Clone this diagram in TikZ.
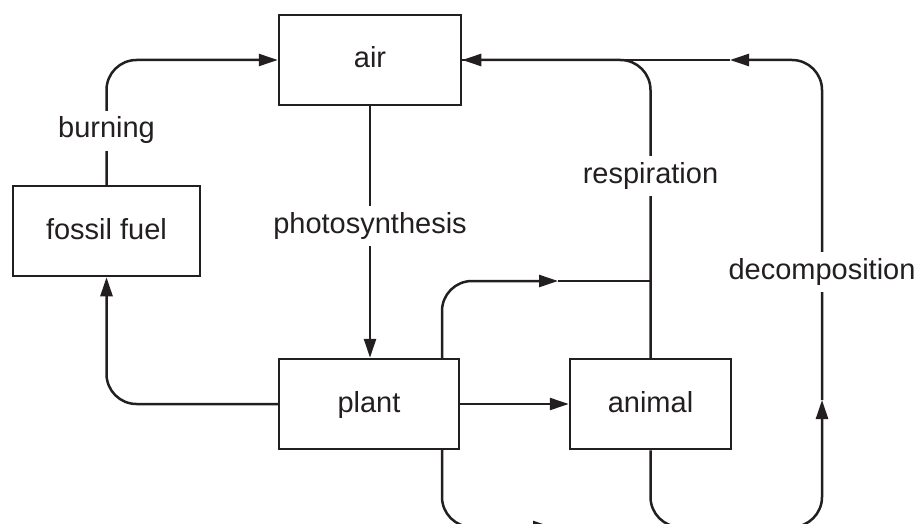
\documentclass[tikz,border=0pt]{standalone}
\usepackage{fontspec}
\setmainfont{Liberation Sans}
\usetikzlibrary{arrows.meta,calc}
\definecolor{ink}{RGB}{35,31,32}
\begin{document}
\begin{tikzpicture}[x=1pt,y=-1pt,
  line width=2.5pt, draw=ink, text=ink,
  box/.style={draw, rectangle, minimum height=90pt, inner sep=0pt,
    text height=16pt, text depth=0pt, font=\fontsize{29}{34}\selectfont},
  lbl/.style={fill=white, anchor=base, inner sep=5pt, text height=22pt, text depth=8pt,
    font=\fontsize{29}{34}\selectfont},
  arr/.style={-{Triangle[length=19pt,width=12pt]}},
  rc/.style={rounded corners=30pt}]
\path[use as bounding box, clip] (0,0) rectangle (920,524);
% boxes
\node[box, minimum width=182pt] (air) at (370,60) {air};
\node[box, minimum width=187pt] (fossil) at (106.5,231) {fossil fuel};
\node[box, minimum width=180pt] (plant) at (369,404) {plant};
\node[box, minimum width=161pt] (animal) at (650.5,404) {animal};
% helper coordinates
\coordinate (pt) at (442,359);
\coordinate (pb) at (442,449);
\coordinate (jr) at (650.5,281);
\coordinate (m1) at (558,281);
\coordinate (m2) at (552,527);
\coordinate (m3) at (822,400);
\coordinate (m4) at (730,60);
\coordinate (jb) at (720,527);
% connectors
\draw[arr, rc] (fossil.north) |- (air.west);
\draw[arr] (air.south) -- (air.south |- plant.north);
\draw[arr, rc] (plant.west) -| (fossil.south);
\draw[arr] (plant.east) -- (animal.west);
\draw[arr, rc] (pt) |- (m1);
\draw (m1) -- (jr);
\draw[arr, rc] (animal.north) |- (air.east);
\draw[arr, rc] (pb) |- (m2);
\draw[arr, rc] (m2) -| (m3);
\draw[arr, rc] (m3) |- (m4);
\draw (m4) -- (air.east);
\draw[rc] (animal.south) |- (jb);
% labels
\node[lbl] (burning) at (106.5,138) {burning};
\node[lbl] (photo) at (370,233) {photosynthesis};
\node[lbl] (resp) at (650.5,183) {respiration};
\node[lbl] (decomp) at (822,279) {decomposition};
\end{tikzpicture}
\end{document}
